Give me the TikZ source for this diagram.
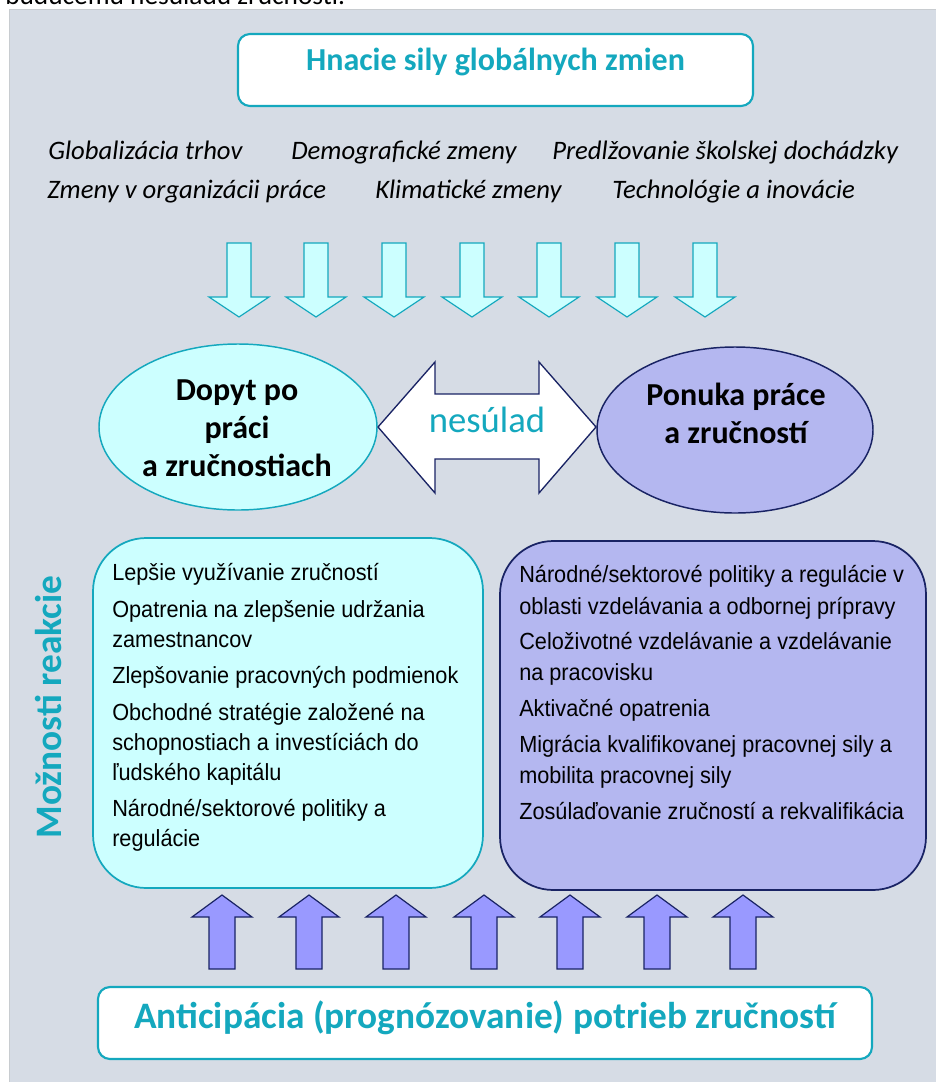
\documentclass[tikz,border=0pt]{standalone}
\usepackage{fontspec}
\setmainfont{Carlito}
\newfontfamily\arialf[FakeStretch=0.93]{Liberation Sans}
\usetikzlibrary{shapes.geometric}
\definecolor{tealc}{RGB}{20,168,190}
\definecolor{cyanfill}{RGB}{204,255,255}
\definecolor{lavfill}{RGB}{180,183,240}
\definecolor{uparfill}{RGB}{153,153,255}
\definecolor{navyc}{RGB}{25,35,100}
\definecolor{panelc}{RGB}{214,220,229}
\tikzset{
  lbl/.style={inner sep=0, anchor=base west, font=\fontsize{20}{24}\selectfont\itshape},
  boxtxt/.style={inner sep=0, anchor=base west, font=\arialf\fontsize{17.5}{20}\selectfont},
  elltxt/.style={inner sep=0, anchor=base, font=\fontsize{24}{28}\selectfont\bfseries},
  headbox/.style={draw=tealc, line width=1.6pt, fill=white, rounded corners=9pt},
  downarr/.style={draw=tealc, line width=0.9pt, fill=cyanfill, line join=miter},
  uparr/.style={draw=navyc, line width=0.9pt, fill=uparfill, line join=miter},
}
\begin{document}
\begin{tikzpicture}[x=0.75pt,y=-0.75pt]
\useasboundingbox (0,0) rectangle (936,1082);
\clip (0,0) rectangle (936,1082);
% cut-off line of page text
\node[inner sep=0, anchor=base west, font=\fontsize{20.5}{24}\selectfont] (cut) at (5,4) {budúcemu nesúladu zručností.};
% panel
\fill[panelc] (9,9) rectangle (936,1082);
\draw[draw={rgb,255:red,200;green,204;blue,208}, line width=0.6pt] (9,1082) -- (9,9) -- (936,9);
% title box
\draw[headbox] (238,34) rectangle (753,106);
\node[inner sep=0, anchor=base, text=tealc, font=\fontsize{24}{28}\selectfont\bfseries] (title) at (495.5,70) {Hnacie sily globálnych zmien};
% drivers
\node[lbl] (g1) at (48,159) {Globalizácia trhov};
\node[lbl] (g2) at (291,159) {Demografické zmeny};
\node[lbl] (g3) at (552,159) {Predlžovanie školskej dochádzky};
\node[lbl] (g4) at (47,198) {Zmeny v organizácii práce};
\node[lbl] (g5) at (375,198) {Klimatické zmeny};
\node[lbl] (g6) at (612,198) {Technológie a inovácie};
% down arrows
\foreach \cx in {239,316,394,472,549,627,705}
  \draw[downarr] (\cx-12,243) -- (\cx+12,243) -- (\cx+12,297) -- (\cx+30,297) -- (\cx,317) -- (\cx-30,297) -- (\cx-12,297) -- cycle;
% ellipses
\node[ellipse, draw=tealc, line width=1.1pt, fill=cyanfill, minimum width=208.5pt, minimum height=124.5pt, inner sep=0] (dem) at (238,427) {};
\node[ellipse, draw=navyc, line width=1.1pt, fill=lavfill, minimum width=207pt, minimum height=124.5pt, inner sep=0] (sup) at (735,430) {};
\node[elltxt] (d1) at (237,400) {Dopyt po};
\node[elltxt] (d2) at (237,438) {práci};
\node[elltxt] (d3) at (237,476) {a zručnostiach};
\node[elltxt] (s1) at (736,405) {Ponuka práce};
\node[elltxt] (s2) at (736,443) {a zručností};
% double arrow
\draw[draw=navyc, line width=1pt, fill=white, line join=miter] (378,427) -- (435,362) -- (435,394) -- (539,394) -- (539,362) -- (596,427) -- (539,493) -- (539,459) -- (435,459) -- (435,493) -- cycle;
\node[inner sep=0, anchor=base, text=tealc, font=\fontsize{27.5}{32}\selectfont] (mis) at (487,432) {nesúlad};
% response boxes
\draw[draw=tealc, line width=1.3pt, fill=cyanfill, rounded corners=40pt] (93,538) rectangle (483,888);
\draw[draw=navyc, line width=1.3pt, fill=lavfill, rounded corners=40pt] (500,541) rectangle (926,890);
\node[inner sep=0, anchor=base, rotate=90, text=tealc, font=\fontsize{28}{32}\selectfont\bfseries] (resp) at (61,707) {Možnosti reakcie};
\node[boxtxt] (a1) at (112,580) {Lepšie využívanie zručností};
\node[boxtxt] (a2) at (112,617) {Opatrenia na zlepšenie udržania};
\node[boxtxt] (a3) at (112,647) {zamestnancov};
\node[boxtxt] (a4) at (112,683) {Zlepšovanie pracovných podmienok};
\node[boxtxt] (a5) at (112,720) {Obchodné stratégie založené na};
\node[boxtxt] (a6) at (112,750) {schopnostiach a investíciách do};
\node[boxtxt] (a7) at (112,780) {ľudského kapitálu};
\node[boxtxt] (a8) at (112,816) {Národné/sektorové politiky a};
\node[boxtxt] (a9) at (112,846) {regulácie};
\node[boxtxt] (b1) at (519,582) {Národné/sektorové politiky a regulácie v};
\node[boxtxt] (b2) at (519,614) {oblasti vzdelávania a odbornej prípravy};
\node[boxtxt] (b3) at (519,649) {Celoživotné vzdelávanie a vzdelávanie};
\node[boxtxt] (b4) at (519,680) {na pracovisku};
\node[boxtxt] (b5) at (519,716) {Aktivačné opatrenia};
\node[boxtxt] (b6) at (519,752) {Migrácia kvalifikovanej pracovnej sily a};
\node[boxtxt] (b7) at (519,783) {mobilita pracovnej sily};
\node[boxtxt] (b8) at (519,819) {Zosúlaďovanie zručností a rekvalifikácia};
% up arrows
\foreach \cx in {222,309,396,484,570,657,743}
  \draw[uparr] (\cx-13,969) -- (\cx-13,917) -- (\cx-30,917) -- (\cx,895) -- (\cx+30,917) -- (\cx+13,917) -- (\cx+13,969) -- cycle;
% bottom box
\draw[headbox] (98,987) rectangle (872,1059);
\node[inner sep=0, anchor=base, text=tealc, font=\fontsize{28}{32}\selectfont\bfseries] (ant) at (485,1028) {Anticipácia (prognózovanie) potrieb zručností};
\end{tikzpicture}
\end{document}
